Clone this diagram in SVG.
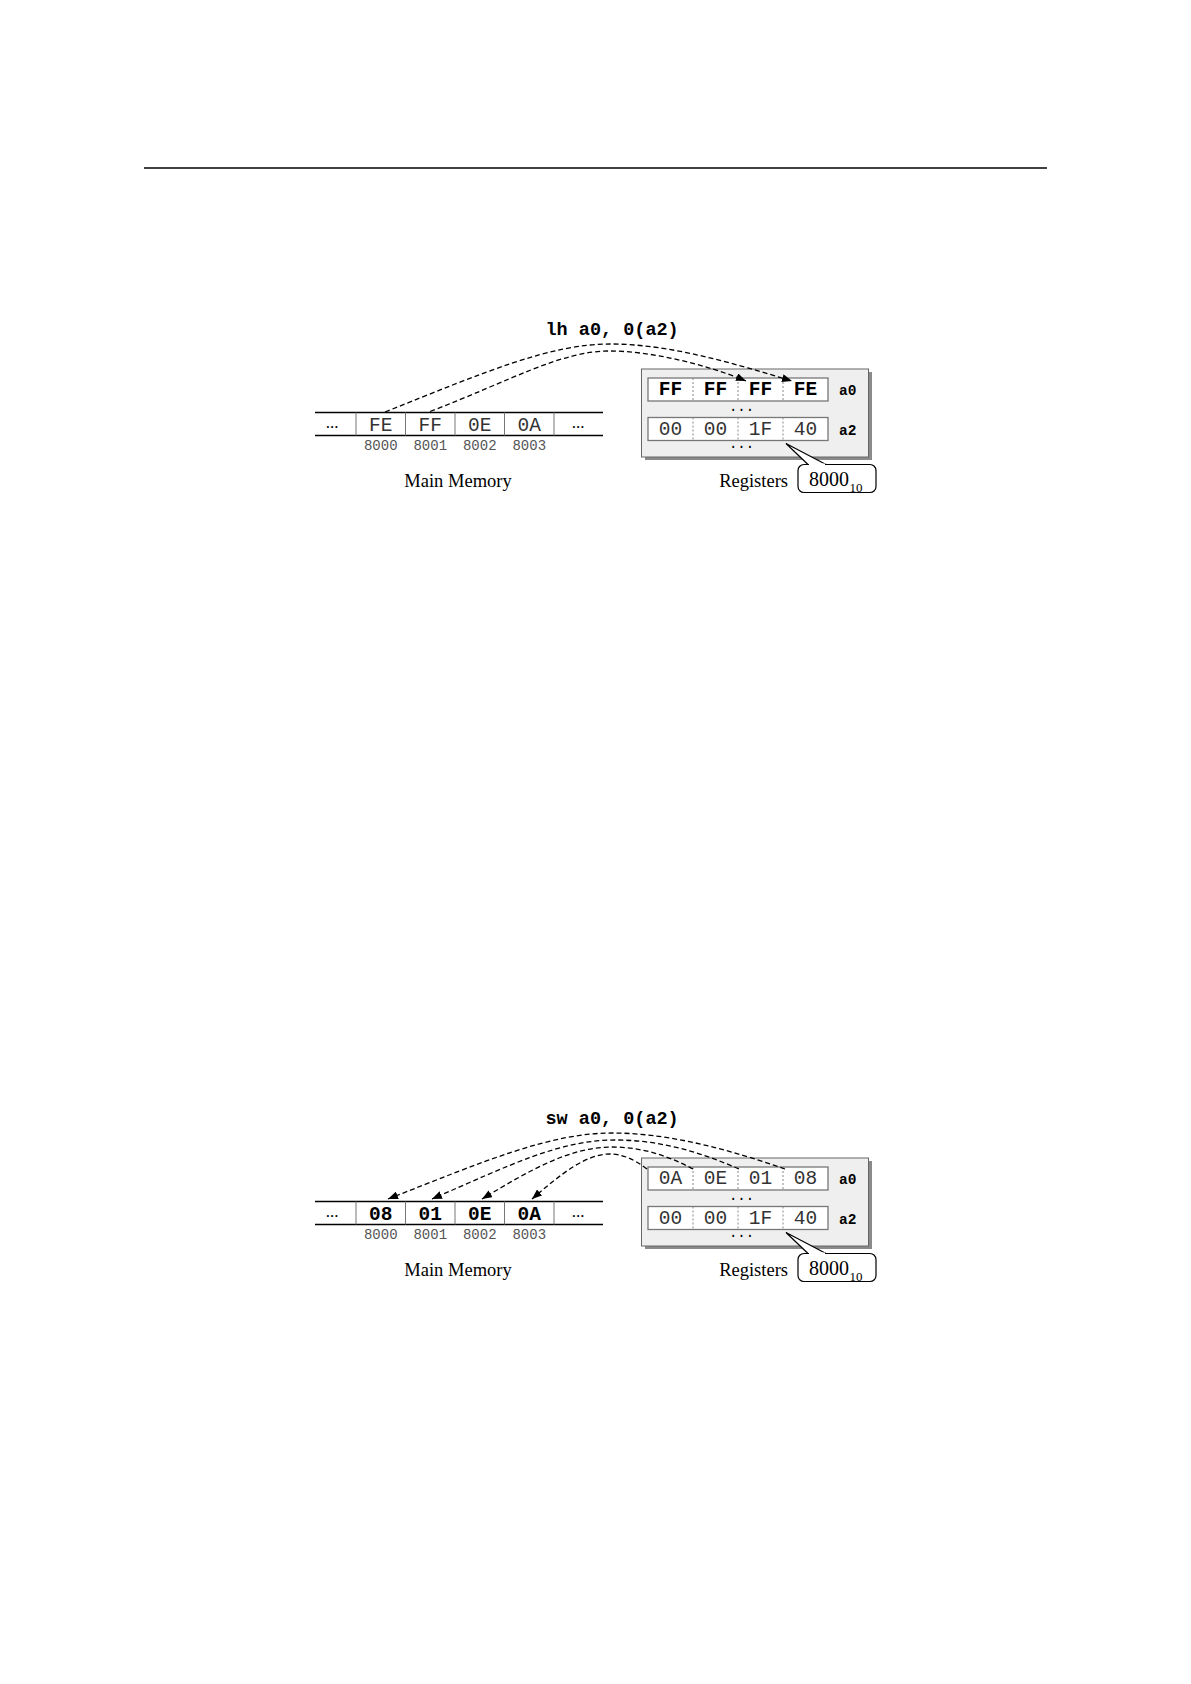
<svg xmlns="http://www.w3.org/2000/svg" width="1191" height="1684" viewBox="0 0 1191 1684">
<style>
.mono{font-family:"Liberation Mono","DejaVu Sans Mono",monospace}
.serif{font-family:"Liberation Serif","DejaVu Serif",serif}
.cell{font-size:19.5px;fill:#333;text-anchor:middle}
.cellb{font-size:19.5px;font-weight:bold;fill:#000;text-anchor:middle}
.addr{font-size:14px;fill:#555;text-anchor:middle}
.rlab{font-size:14.5px;font-weight:bold;fill:#000}
.instr{font-size:18.5px;font-weight:bold;fill:#000}
.cap{font-size:18.5px;fill:#000}
.hl{stroke:#000;stroke-width:1.5;fill:none}
.vd{stroke:#777;stroke-width:1}
.row{fill:#fff;stroke:#777;stroke-width:1.3}
.dd{stroke:#888;stroke-width:1;stroke-dasharray:2 2}
.conn{fill:none;stroke:#000;stroke-width:1.3;stroke-dasharray:5 3}
</style>
<defs>
<marker id="ah" viewBox="0 0 10 8" refX="10" refY="4" markerWidth="10" markerHeight="8" markerUnits="userSpaceOnUse" orient="auto">
<path d="M0,0 L10,4 L0,8 Z" fill="#000"/>
</marker>
<g id="memstrip">
<line class="hl" x1="315" y1="412.5" x2="603" y2="412.5"/>
<line class="hl" x1="315" y1="435.5" x2="603" y2="435.5"/>
<line class="vd" x1="356" y1="412.5" x2="356" y2="435.5"/>
<line class="vd" x1="405.5" y1="412.5" x2="405.5" y2="435.5"/>
<line class="vd" x1="455" y1="412.5" x2="455" y2="435.5"/>
<line class="vd" x1="504.5" y1="412.5" x2="504.5" y2="435.5"/>
<line class="vd" x1="554" y1="412.5" x2="554" y2="435.5"/>
<text class="serif" x="332" y="428" font-size="17" text-anchor="middle">...</text>
<text class="serif" x="578" y="428" font-size="17" text-anchor="middle">...</text>
<text class="mono addr" x="380.75" y="450">8000</text>
<text class="mono addr" x="430.25" y="450">8001</text>
<text class="mono addr" x="479.75" y="450">8002</text>
<text class="mono addr" x="529.25" y="450">8003</text>
<text class="serif cap" x="458" y="487" text-anchor="middle">Main Memory</text>
</g>
<g id="regbox">
<rect x="645" y="372" width="227" height="88" fill="#8a8a8a"/>
<rect x="641.5" y="369" width="227" height="88" fill="#efefef" stroke="#666" stroke-width="1"/>
<rect class="row" x="648" y="378" width="180" height="23"/>
<line class="dd" x1="693" y1="378" x2="693" y2="401"/>
<line class="dd" x1="738" y1="378" x2="738" y2="401"/>
<line class="dd" x1="783" y1="378" x2="783" y2="401"/>
<rect class="row" x="648" y="417.5" width="180" height="23"/>
<line class="dd" x1="693" y1="417.5" x2="693" y2="440.5"/>
<line class="dd" x1="738" y1="417.5" x2="738" y2="440.5"/>
<line class="dd" x1="783" y1="417.5" x2="783" y2="440.5"/>
<text class="mono" x="741.5" y="411" font-size="14" text-anchor="middle">...</text>
<text class="mono" x="741.5" y="448" font-size="14" text-anchor="middle">...</text>
<text class="mono rlab" x="839" y="395">a0</text>
<text class="mono rlab" x="839" y="435">a2</text>
<text class="mono cell" x="670.5" y="435">00</text>
<text class="mono cell" x="715.5" y="435">00</text>
<text class="mono cell" x="760.5" y="435">1F</text>
<text class="mono cell" x="805.5" y="435">40</text>
<text class="serif cap" x="788" y="487" text-anchor="end">Registers</text>
</g>
<g id="callout">
<path d="M808,464.5 L786,443.5 L826,464.5" fill="#fff" stroke="#000" stroke-width="1.2"/>
<rect x="798" y="464.5" width="78" height="28" rx="6" fill="#fff" stroke="#000" stroke-width="1.2"/>
<line x1="809" y1="464.5" x2="825" y2="464.5" stroke="#fff" stroke-width="2"/>
<text class="serif" x="809" y="485.5" font-size="20">8000</text>
<text class="serif" x="849.5" y="491.5" font-size="13">10</text>
</g>
</defs>
<line id="rule" x1="144" y1="168" x2="1047" y2="168" stroke="#000" stroke-width="1.3"/>

<g id="lh-instruction"><text class="mono instr" x="545.5" y="335">lh a0, 0(a2)</text></g>
<g id="lh-memory">
<use href="#memstrip"/>
<text class="mono cell" x="380.75" y="431">FE</text>
<text class="mono cell" x="430.25" y="431">FF</text>
<text class="mono cell" x="479.75" y="431">0E</text>
<text class="mono cell" x="529.25" y="431">0A</text>
</g>
<g id="lh-registers">
<use href="#regbox"/>
<text class="mono cellb" x="670.5" y="395">FF</text>
<text class="mono cellb" x="715.5" y="395">FF</text>
<text class="mono cellb" x="760.5" y="395">FF</text>
<text class="mono cellb" x="805.5" y="395">FE</text>
</g>
<g id="lh-callout"><use href="#callout"/></g>
<g id="lh-connectors">
<path class="conn" d="M385,412 C485,372 550,344 610,344 C670,344 732,363 792,381" marker-end="url(#ah)"/>
<path class="conn" d="M430,411.5 C510,381 560,351 610,351 C650,351 705,364 746,381" marker-end="url(#ah)"/>
</g>

<g id="sw-instruction"><text class="mono instr" x="545.5" y="1124">sw a0, 0(a2)</text></g>
<g id="sw-memory" transform="translate(0,789)">
<use href="#memstrip"/>
<text class="mono cellb" x="380.75" y="431">08</text>
<text class="mono cellb" x="430.25" y="431">01</text>
<text class="mono cellb" x="479.75" y="431">0E</text>
<text class="mono cellb" x="529.25" y="431">0A</text>
</g>
<g id="sw-registers" transform="translate(0,789)">
<use href="#regbox"/>
<text class="mono cell" x="670.5" y="395">0A</text>
<text class="mono cell" x="715.5" y="395">0E</text>
<text class="mono cell" x="760.5" y="395">01</text>
<text class="mono cell" x="805.5" y="395">08</text>
</g>
<g id="sw-callout" transform="translate(0,789)"><use href="#callout"/></g>
<g id="sw-connectors">
<path class="conn" d="M785,1169 C730,1150 670,1133 612,1133 C550,1133 485,1161 388,1199" marker-end="url(#ah)"/>
<path class="conn" d="M739,1169 C700,1152 660,1140 615,1140 C560,1140 510,1165 432,1199" marker-end="url(#ah)"/>
<path class="conn" d="M693,1169 C667,1155 640,1147 612,1147 C570,1147 530,1170 482,1199" marker-end="url(#ah)"/>
<path class="conn" d="M647,1169 C634,1159 622,1154 610,1154 C585,1154 560,1175 532,1199" marker-end="url(#ah)"/>
</g>
</svg>
